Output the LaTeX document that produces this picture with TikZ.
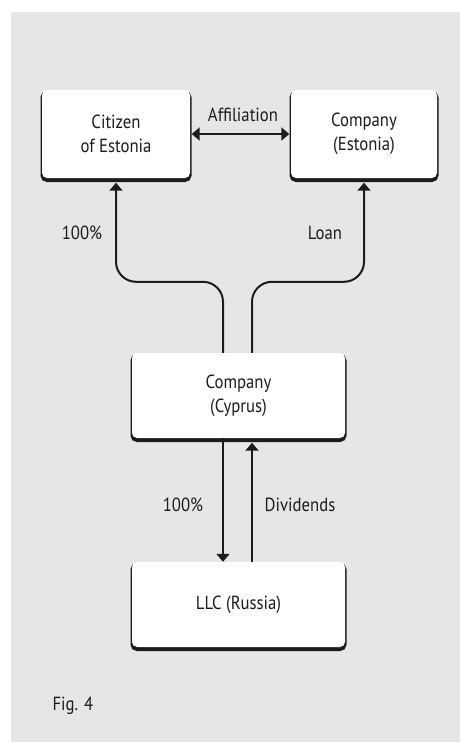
\documentclass[tikz,border=0pt]{standalone}
\usepackage{fontspec}
\setmainfont[FakeStretch=0.88]{PT Sans}
\usetikzlibrary{arrows.meta,shadows}
\definecolor{figgrey}{HTML}{E5E6E8}
\definecolor{ink}{HTML}{1E1B1C}

\begin{document}
\begin{tikzpicture}[x=1pt, y=-1pt,
        entity/.style={fill=white, rounded corners=5pt, align=center, text=ink,
            minimum width=148pt, minimum height=88pt, inner sep=0pt,
            font=\fontsize{19}{24}\selectfont,
            general shadow={draw=ink, fill=ink, line width=3pt, shadow yshift=-2.5pt}},
        link/.style={ink, line width=2pt, -{Triangle[width=13pt, length=8pt]}},
        tag/.style={text=ink, font=\fontsize{19}{24}\selectfont}]
    \useasboundingbox (0,0) rectangle (460,742);
    \fill[figgrey] (11,12) rectangle (460,742);

    \node[entity] (citizen) at (116,134) {Citizen\\of Estonia};
    \node[entity, minimum width=146pt] (estco) at (364,134) {Company\\(Estonia)};
    \node[entity, minimum width=213pt, minimum height=85pt] (cyprus) at (238.5,395.5) {Company\\(Cyprus)};
    \node[entity, minimum width=213pt, minimum height=85pt] (llc) at (238.5,604.5) {LLC (Russia)};

    % ownership and loan up to Estonia
    \draw[link, {Triangle[width=13pt, length=8pt]}-{Triangle[width=13pt, length=8pt]}, shorten <=1.5pt, shorten >=1.5pt]
        (citizen.east) -- (estco.west);
    \node[tag, anchor=base] (affil) at (243,121) {Affiliation};
    \draw[link, rounded corners=20pt] ([xshift=-15.5pt]cyprus.north) -- ++(0,-71) -| ([yshift=-4.5pt]citizen.south);
    \draw[link, rounded corners=20pt] ([xshift=13.5pt]cyprus.north) -- ++(0,-71) -| ([yshift=-4.5pt]estco.south);
    \node[tag] (own1) at (82,233) {100\%};
    \node[tag] (loan) at (325,233) {Loan};

    % Cyprus and Russia
    \draw[link] ([xshift=-15.5pt]cyprus.south) -- ([xshift=-15.5pt]llc.north);
    \draw[link] ([xshift=13.5pt]llc.north) -- ([xshift=13.5pt,yshift=-4.5pt]cyprus.south);
    \node[tag] (own2) at (183,505) {100\%};
    \node[tag] (divid) at (300,505) {Dividends};

    \node[tag, anchor=west] (fig) at (49,706) {Fig. 4};
\end{tikzpicture}
\end{document}
